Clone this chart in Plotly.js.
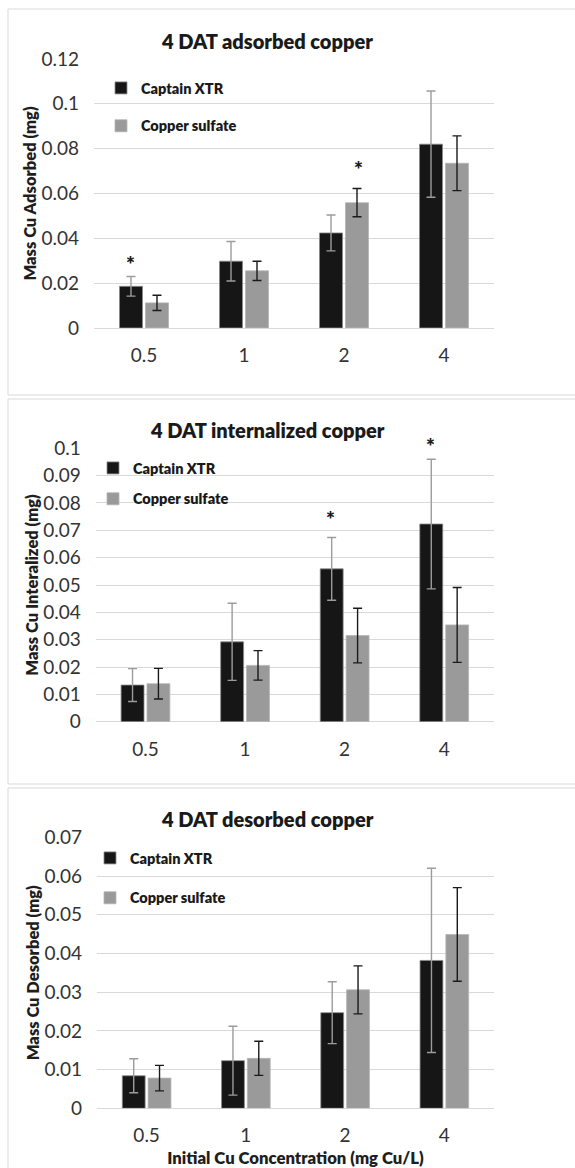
<!DOCTYPE html>
<html>
<head>
<meta charset="utf-8">
<script src="https://cdn.plot.ly/plotly-3.0.1.min.js"></script>
<style>html,body{margin:0;padding:0;background:#fff;}#chart{width:575px;height:1168px;}</style>
</head>
<body>
<div id="chart"></div>
<script>
// ---- Data ----
const categories = ['0.5', '1', '2', '4'];
const seriesNames = ['Captain XTR', 'Copper sulfate'];

const adsorbedXTR       = [0.0186, 0.0298, 0.0424, 0.0820];
const adsorbedXTRErr    = [0.0044, 0.0088, 0.0080, 0.0237];
const adsorbedCuSO4     = [0.0112, 0.0255, 0.0559, 0.0735];
const adsorbedCuSO4Err  = [0.0034, 0.0043, 0.0063, 0.0122];

const internalizedXTR      = [0.0134, 0.0292, 0.0559, 0.0723];
const internalizedXTRErr   = [0.0060, 0.0141, 0.0115, 0.0237];
const internalizedCuSO4    = [0.0139, 0.0206, 0.0315, 0.0354];
const internalizedCuSO4Err = [0.0056, 0.0054, 0.0100, 0.0137];

const desorbedXTR       = [0.0084, 0.0123, 0.0247, 0.0382];
const desorbedXTRErr    = [0.0044, 0.0089, 0.0080, 0.0238];
const desorbedCuSO4     = [0.0078, 0.0129, 0.0306, 0.0449];
const desorbedCuSO4Err  = [0.0033, 0.0044, 0.0062, 0.0121];

// significance asterisks: category, series index (0 = XTR, 1 = copper sulfate), y position
const sigAdsorbedCats = ['0.5', '2'];
const sigAdsorbedSeries = [0, 1];
const sigAdsorbedY = [0.0308, 0.0732];
const sigInternalizedCats = ['2', '4'];
const sigInternalizedSeries = [0, 0];
const sigInternalizedY = [0.0763, 0.1027];

const panelTitles = ['4 DAT adsorbed copper', '4 DAT internalized copper', '4 DAT desorbed copper'];
const yTitles = ['Mass Cu Adsorbed (mg)', 'Mass Cu Interalized (mg)', 'Mass Cu Desorbed (mg)'];
const xTitle = 'Initial Cu Concentration (mg Cu/L)';

// ---- Styles ----
const W = 575, H = 1168;
const BLACK = '#161616', GRAY = '#9a9a9a';
const FONT = 'Lato, Open Sans, sans-serif';
const HEAVY = 800;
const px = v => v / W;
const py = v => 1 - v / H;

const panels = [
  {xs: '', x0: 94, x1: 494, yTop: 59, yBot: 328, range: [0, 0.12], dtick: 0.02,
   a: adsorbedXTR, ae: adsorbedXTRErr, b: adsorbedCuSO4, be: adsorbedCuSO4Err,
   legend: 'legend', legX: 101, legY: 72, gap: 16},
  {xs: '2', x0: 95.7, x1: 494, yTop: 448.3, yBot: 721.7, range: [0, 0.1], dtick: 0.01,
   a: internalizedXTR, ae: internalizedXTRErr, b: internalizedCuSO4, be: internalizedCuSO4Err,
   legend: 'legend2', legX: 93, legY: 452, gap: 9},
  {xs: '3', x0: 97, x1: 494, yTop: 837.3, yBot: 1108.3, range: [0, 0.07], dtick: 0.01,
   a: desorbedXTR, ae: desorbedXTRErr, b: desorbedCuSO4, be: desorbedCuSO4Err,
   legend: 'legend3', legX: 90, legY: 842, gap: 18}
];

const traces = [];
const layout = {
  width: W, height: H,
  margin: {l: 0, r: 0, t: 0, b: 0},
  paper_bgcolor: '#ffffff', plot_bgcolor: '#ffffff',
  font: {family: FONT, color: '#404040'},
  barmode: 'group', bargap: 0.48, bargroupgap: 0.115,
  shapes: [], annotations: []
};

panels.forEach((p, i) => {
  const xa = 'x' + p.xs, ya = 'y' + p.xs;
  p.dom = [py(p.yBot), py(p.yTop)];
  traces.push({
    type: 'bar', x: categories, y: p.a, name: seriesNames[0],
    xaxis: xa, yaxis: ya, legend: p.legend, legendgroup: 'g' + i + 'a',
    marker: {color: BLACK, line: {color: '#8a8a8a', width: 0.8}},
    error_y: {type: 'data', array: p.ae, visible: true, color: '#9c9c9c', thickness: 1.4, width: 4.5},
    hoverinfo: 'x+y'
  });
  traces.push({
    type: 'bar', x: categories, y: p.b, name: seriesNames[1],
    xaxis: xa, yaxis: ya, legend: p.legend, legendgroup: 'g' + i + 'b',
    marker: {color: GRAY, line: {color: '#b5b5b5', width: 0.8}},
    error_y: {type: 'data', array: p.be, visible: true, color: '#1a1a1a', thickness: 1.4, width: 4.5},
    hoverinfo: 'x+y'
  });

  layout['xaxis' + p.xs] = {
    domain: [px(p.x0), px(p.x1)], anchor: ya, type: 'category',
    showgrid: false, showline: false, zeroline: false, ticks: '',
    ticklabelstandoff: 14, tickfont: {size: 19, color: '#333333', family: FONT},
    fixedrange: true
  };
  if (i === 2) {
    layout['xaxis' + p.xs].title = {text: xTitle, font: {size: 16.7, color: '#1e1e1e', family: FONT, weight: HEAVY}, standoff: 7};
  }
  layout['yaxis' + p.xs] = {
    domain: p.dom, anchor: xa, range: p.range, dtick: p.dtick,
    showgrid: true, gridcolor: '#d9d9d9', gridwidth: 1,
    zeroline: true, zerolinecolor: '#d9d9d9', zerolinewidth: 1.3,
    showline: false, ticks: '', ticklabelstandoff: 14,
    tickfont: {size: 19, color: '#333333', family: FONT},
    title: {text: yTitles[i], font: {size: 16.5, color: '#1e1e1e', family: FONT, weight: HEAVY}, standoff: 0},
    fixedrange: true
  };
  layout[p.legend] = {
    x: px(p.legX), y: py(p.legY), xanchor: 'left', yanchor: 'top',
    bgcolor: 'rgba(0,0,0,0)', borderwidth: 0,
    font: {size: 14.5, color: '#1a1a1a', family: FONT, weight: HEAVY},
    tracegroupgap: p.gap, itemclick: false, itemdoubleclick: false
  };
  layout.annotations.push({
    xref: 'paper', yref: 'paper', x: 267 / W, y: py(p.yTop - 18),
    xanchor: 'center', yanchor: 'middle', showarrow: false,
    text: panelTitles[i], font: {size: 20, color: '#1a1a1a', family: FONT, weight: HEAVY}
  });
});

// panel frames
[[8, 9, 395], [8, 399, 784], [8, 788, 1180]].forEach(f => {
  layout.shapes.push({type: 'rect', xref: 'paper', yref: 'paper',
    x0: px(f[0]), x1: px(600), y0: py(f[2]), y1: py(f[1]),
    line: {color: '#d9d9d9', width: 1}, fillcolor: 'rgba(0,0,0,0)', layer: 'below'});
});

// significance asterisks: x on the category axis (index), y mapped through the
// panel's linear y scale into paper space (so marks above the range still show)
function addSig(cats, series, ys, p) {
  cats.forEach((c, k) => {
    const frac = (ys[k] - p.range[0]) / (p.range[1] - p.range[0]);
    layout.annotations.push({
      xref: 'x' + p.xs, yref: 'paper', x: categories.indexOf(c),
      y: p.dom[0] + frac * (p.dom[1] - p.dom[0]),
      xshift: series[k] === 0 ? -14 : 14.5, yshift: -5,
      showarrow: false, text: '*', yanchor: 'middle',
      font: {size: 21, color: '#1a1a1a', family: FONT, weight: HEAVY}
    });
  });
}
addSig(sigAdsorbedCats, sigAdsorbedSeries, sigAdsorbedY, panels[0]);
addSig(sigInternalizedCats, sigInternalizedSeries, sigInternalizedY, panels[1]);

Plotly.newPlot('chart', traces, layout, {displayModeBar: false, staticPlot: false});
</script>
</body>
</html>
